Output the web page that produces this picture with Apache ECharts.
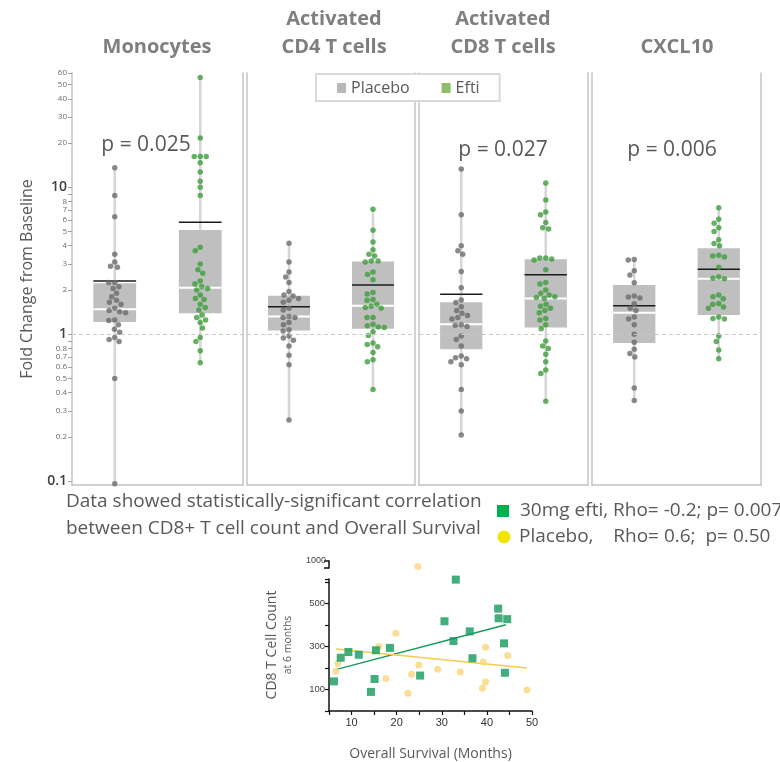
<!DOCTYPE html>
<html>
<head>
<meta charset="utf-8">
<script src="https://cdn.jsdelivr.net/npm/echarts@6/dist/echarts.min.js"></script>
<style>
html, body { margin: 0; padding: 0; background: #fff; }
#chart { width: 780px; height: 762px; }
</style>
</head>
<body>
<div id="chart"></div>
<script>
// panel titles and p-values
const panelNames = ['Monocytes', 'Activated\nCD4 T cells', 'Activated\nCD8 T cells', 'CXCL10']
const pValues = ['p = 0.025', '', 'p = 0.027', 'p = 0.006']
const groups = ['Placebo', 'Efti']

// box stats per panel: [min, q1, median, q3, max, mean]
const placeboBox = [
  [0.096, 1.21, 1.48, 2.22, 13.6, 2.30],
  [0.26, 1.06, 1.32, 1.83, 4.16, 1.54],
  [0.206, 0.79, 1.17, 1.65, 13.3, 1.87],
  [0.353, 0.87, 1.40, 2.16, 3.22, 1.56]
]
const eftiBox = [
  [0.64, 1.39, 2.07, 5.12, 56, 5.78],
  [0.42, 1.09, 1.56, 3.12, 7.1, 2.16],
  [0.35, 1.11, 1.75, 3.24, 10.7, 2.54],
  [0.676, 1.35, 2.38, 3.85, 7.27, 2.77]
]

// individual points (fold change)
const placeboPts = [
  [13.6, 8.8, 6.3, 3.5, 3.1, 2.9, 2.85, 2.25, 2.25, 2.1, 2.05, 1.9, 1.8, 1.7, 1.65, 1.6, 1.5, 1.45, 1.42, 1.4, 1.25, 1.24, 1.16, 1.08, 1.03, 0.95, 0.92, 0.89, 0.5, 0.096],
  [4.16, 3.1, 2.65, 2.45, 2.25, 1.95, 1.85, 1.82, 1.75, 1.7, 1.65, 1.5, 1.46, 1.32, 1.3, 1.3, 1.2, 1.16, 1.07, 1.05, 0.97, 0.94, 0.91, 0.83, 0.72, 0.62, 0.26],
  [13.3, 6.5, 4.0, 3.7, 3.5, 2.67, 2.07, 1.71, 1.64, 1.54, 1.45, 1.39, 1.34, 1.3, 1.27, 1.16, 1.15, 1.13, 0.97, 0.92, 0.83, 0.71, 0.69, 0.68, 0.65, 0.62, 0.42, 0.3, 0.206],
  [3.22, 3.2, 2.7, 2.53, 2.24, 1.82, 1.79, 1.76, 1.61, 1.5, 1.45, 1.31, 1.27, 1.16, 1.0, 0.88, 0.79, 0.74, 0.7, 0.43, 0.353]
]
const eftiPts = [
  [56, 21.7, 16.2, 16.2, 16.2, 14.7, 12.7, 11.0, 10.0, 8.8, 3.9, 3.7, 3.0, 2.75, 2.6, 2.3, 2.2, 2.1, 2.05, 2.0, 1.85, 1.75, 1.72, 1.6, 1.52, 1.46, 1.35, 1.3, 1.25, 1.2, 1.1, 0.95, 0.89, 0.77, 0.64],
  [7.1, 5.1, 4.25, 3.75, 3.5, 3.4, 3.15, 3.15, 3.1, 2.65, 2.55, 2.35, 1.92, 1.88, 1.72, 1.7, 1.6, 1.55, 1.52, 1.5, 1.3, 1.3, 1.17, 1.14, 1.12, 1.11, 1.04, 0.98, 0.87, 0.85, 0.82, 0.75, 0.67, 0.65, 0.42],
  [10.7, 8.2, 6.8, 6.5, 5.75, 5.3, 5.2, 3.3, 3.3, 3.25, 3.2, 2.75, 2.25, 2.2, 2.0, 1.9, 1.85, 1.8, 1.78, 1.75, 1.6, 1.55, 1.5, 1.45, 1.4, 1.28, 1.25, 1.16, 1.09, 0.9, 0.83, 0.8, 0.73, 0.65, 0.57, 0.54, 0.35],
  [7.27, 6.05, 5.7, 5.3, 5.0, 4.4, 4.15, 4.0, 3.45, 3.4, 3.35, 2.85, 2.45, 2.4, 2.38, 1.85, 1.8, 1.74, 1.62, 1.6, 1.53, 1.5, 1.31, 1.28, 1.27, 0.97, 0.89, 0.78, 0.68]
]

// log axis ticks
const yTicks = [0.1, 0.2, 0.3, 0.4, 0.5, 0.6, 0.7, 0.8, 0.9, 1, 2, 3, 4, 5, 6, 7, 8, 9, 10, 20, 30, 40, 50, 60]
const yLabels = [0.1, 0.2, 0.3, 0.4, 0.5, 0.6, 0.7, 0.8, 1, 2, 3, 4, 5, 6, 7, 8, 10, 20, 30, 40, 50, 60]
const bigLabels = [0.1, 1, 10]

// survival scatter: [months, CD8 count]
const osEfti = [[6.1, 138], [7.6, 248], [9.3, 275], [11.6, 262], [14.3, 89], [15.1, 149], [15.4, 283], [18.5, 294], [25.2, 165], [30.6, 418], [32.6, 326], [33.1, 612], [36.2, 371], [36.8, 246], [42.5, 477], [42.6, 432], [44.5, 428], [43.8, 315], [44.0, 178]]
const osPlacebo = [[6.5, 185], [7.0, 223], [16.1, 300], [17.6, 151], [19.8, 362], [22.5, 83], [23.3, 171], [24.9, 214], [29.1, 195], [34.1, 182], [39.0, 106], [39.2, 228], [39.7, 297], [39.7, 135], [44.6, 258], [48.9, 98]]
const osPlaceboHigh = [[24.7, 973]]
const fitEfti = [[6.7, 194], [44.2, 402]]
const fitPlacebo = [[6.5, 289], [48.9, 200]]

const chart = echarts.init(document.getElementById('chart'))
const FONT = 'Open Sans'

// panel layout
const panelLeft = [72, 247, 419, 592]
const panelWidth = [171, 168, 169, 169]

function renderBox(params, api) {
  const half = params.coordSys.width / 2 * 0.25
  const cat = api.value(0)
  const cx = api.coord([cat, 1])[0]
  const y = i => api.coord([cat, api.value(i)])[1]
  const yMin = y(1), yQ1 = y(2), yMed = y(3), yQ3 = y(4), yMax = y(5), yMean = y(6)
  return {
    type: 'group',
    children: [
      { type: 'line', shape: { x1: cx, y1: yMax, x2: cx, y2: yMin }, style: { stroke: '#d6d6d6', lineWidth: 2.5 } },
      { type: 'rect', shape: { x: cx - half, y: yQ3, width: half * 2, height: yQ1 - yQ3 }, style: { fill: '#bfbfbf' } },
      { type: 'line', shape: { x1: cx - half, y1: yMed, x2: cx + half, y2: yMed }, style: { stroke: '#ffffff', lineWidth: 2 } },
      { type: 'line', shape: { x1: cx - half, y1: yMean, x2: cx + half, y2: yMean }, style: { stroke: '#1a1a1a', lineWidth: 1.5 } }
    ]
  }
}

const grid = []
const xAxis = []
const yAxis = []
const series = []

for (let i = 0; i < 4; i++) {
  grid.push({ left: panelLeft[i], width: panelWidth[i], top: 73, height: 412 })
  xAxis.push({
    gridIndex: i, type: 'category', data: groups,
    jitter: 28, jitterOverlap: false, jitterMargin: 0.5,
    axisLine: { lineStyle: { color: '#c4c4c4', width: 1.5 } },
    axisTick: { show: false }, axisLabel: { show: false }
  })
  yAxis.push({
    gridIndex: i, type: 'log', min: 0.094, max: 60,
    name: i === 0 ? 'Fold Change from Baseline' : '',
    nameLocation: 'middle', nameGap: 37,
    nameTextStyle: { fontSize: 16, color: '#595959', fontFamily: FONT },
    axisLine: { show: true, lineStyle: { color: '#c4c4c4', width: 1.5 } },
    axisTick: { show: i === 0, customValues: yTicks, length: 4, lineStyle: { color: '#a0a0a0' } },
    axisLabel: {
      show: i === 0, customValues: yLabels, margin: 5,
      formatter: v => {
        const t = +v.toPrecision(3)
        return bigLabels.includes(t) ? '{b|' + t + '}' : '{s|' + t + '}'
      },
      rich: {
        b: { fontSize: 14, color: '#404040', fontFamily: FONT, fontWeight: 600 },
        s: { fontSize: 8, color: '#6a6a6a', fontFamily: FONT }
      }
    },
    splitLine: { show: false }
  })
  yAxis.push({
    gridIndex: i, type: 'value', position: 'right', min: 0, max: 1,
    axisLine: { show: true, lineStyle: { color: '#c4c4c4', width: 1.5 } },
    axisTick: { show: false }, axisLabel: { show: false }, splitLine: { show: false }
  })
  series.push({
    type: 'custom', xAxisIndex: i, yAxisIndex: 2 * i, z: 2,
    renderItem: renderBox,
    encode: { x: 0, y: [1, 2, 3, 4, 5, 6] },
    data: [[0].concat(placeboBox[i]), [1].concat(eftiBox[i])],
    markLine: {
      silent: true, symbol: 'none', label: { show: false },
      lineStyle: { type: [4, 3], color: '#c8c8c8', width: 1 },
      data: [{ yAxis: 1 }]
    }
  })
  series.push({
    name: 'Placebo', type: 'scatter', xAxisIndex: i, yAxisIndex: 2 * i, z: 3,
    symbolSize: 5.5, itemStyle: { color: '#6c6c6c' },
    data: placeboPts[i].map(v => [0, v])
  })
  series.push({
    name: 'Efti', type: 'scatter', xAxisIndex: i, yAxisIndex: 2 * i, z: 3,
    symbolSize: 5.5, itemStyle: { color: '#3f9e3c' },
    data: eftiPts[i].map(v => [1, v])
  })
}

// survival scatter, upper (broken) part and main part
grid.push({ left: 329, width: 203, top: 561, height: 7 })
grid.push({ left: 329, width: 203, top: 579, height: 134 })
xAxis.push({ gridIndex: 4, type: 'value', min: 5, max: 50, show: false })
xAxis.push({
  gridIndex: 5, type: 'value', min: 5, max: 50, interval: 5,
  name: 'Overall Survival (Months)', nameLocation: 'middle', nameGap: 36,
  nameTextStyle: { fontSize: 14, color: '#595959', fontFamily: FONT },
  axisLine: { lineStyle: { color: '#111', width: 1.5 } },
  axisTick: { length: 4, lineStyle: { color: '#111', width: 1.2 } },
  axisLabel: { fontSize: 11, color: '#333', fontFamily: 'Liberation Sans', margin: 6, formatter: v => v % 10 === 0 ? v : '' },
  splitLine: { show: false }
})
yAxis.push({
  gridIndex: 4, type: 'value', min: 965, max: 1000, interval: 35,
  axisLine: { lineStyle: { color: '#111', width: 1.5 } },
  axisTick: { length: 5, lineStyle: { color: '#111', width: 1.5 } },
  axisLabel: { fontSize: 9, color: '#444', fontFamily: 'Liberation Sans', margin: 3, formatter: v => v === 1000 ? '1000' : '' },
  splitLine: { show: false }
})
yAxis.push({
  gridIndex: 5, type: 'value', min: 0, max: 615, interval: 100,
  name: '{a|CD8 T Cell Count}\n{b|at 6 months}', nameLocation: 'middle', nameGap: 34,
  nameTextStyle: {
    rich: {
      a: { fontSize: 14, color: '#595959', fontFamily: FONT, lineHeight: 18 },
      b: { fontSize: 10.5, color: '#595959', fontFamily: FONT, lineHeight: 14 }
    }
  },
  axisLine: { lineStyle: { color: '#111', width: 1.5 } },
  axisTick: { length: 4, lineStyle: { color: '#111', width: 1.2 } },
  axisLabel: { fontSize: 9.5, color: '#444', fontFamily: 'Liberation Sans', margin: 4, formatter: v => [100, 300, 500].includes(v) ? v : '' },
  splitLine: { show: false }
})
series.push({
  name: 'placeboOS', type: 'scatter', xAxisIndex: 4, yAxisIndex: 8, z: 3,
  symbol: 'circle', symbolSize: 7, itemStyle: { color: '#f9d67c' }, data: osPlaceboHigh
})
series.push({
  name: 'placeboOS', type: 'scatter', xAxisIndex: 5, yAxisIndex: 9, z: 3,
  symbol: 'circle', symbolSize: 7, itemStyle: { color: '#f9d67c' }, data: osPlacebo
})
series.push({
  name: 'eftiOS', type: 'scatter', xAxisIndex: 5, yAxisIndex: 9, z: 3,
  symbol: 'rect', symbolSize: 8, itemStyle: { color: '#119a5b' }, data: osEfti
})
series.push({
  name: 'eftiFit', type: 'line', xAxisIndex: 5, yAxisIndex: 9, z: 2,
  symbol: 'none', lineStyle: { color: '#18995a', width: 1.5 }, data: fitEfti
})
series.push({
  name: 'placeboFit', type: 'line', xAxisIndex: 5, yAxisIndex: 9, z: 2,
  symbol: 'none', lineStyle: { color: '#f5cb50', width: 1.5 }, data: fitPlacebo
})

const titleX = [157, 334, 503, 677]
const pX = [146, 0, 503, 672]
const pY = [145, 0, 150, 150]
const graphic = []
panelNames.forEach((t, i) => {
  graphic.push({
    type: 'text', x: titleX[i], y: 61, z: 10,
    style: { text: t, fontSize: 20, fontWeight: 'bold', fontFamily: FONT, fill: '#7f7f7f', align: 'center', verticalAlign: 'bottom', lineHeight: 28 }
  })
  if (pValues[i]) {
    graphic.push({
      type: 'text', x: pX[i], y: pY[i], z: 10,
      style: { text: pValues[i], fontSize: 21, fontFamily: FONT, fill: '#595959', align: 'center', verticalAlign: 'middle' }
    })
  }
})
const noteSize = 19
graphic.push(
  { type: 'text', x: 66, y: 502, style: { text: 'Data showed statistically-significant correlation', fontSize: noteSize, fontFamily: FONT, fill: '#595959', verticalAlign: 'middle' } },
  { type: 'text', x: 66, y: 529, style: { text: 'between CD8+ T cell count and Overall Survival', fontSize: noteSize, fontFamily: FONT, fill: '#595959', verticalAlign: 'middle' } },
  { type: 'rect', shape: { x: 497, y: 505, width: 12, height: 12 }, style: { fill: '#00b050' } },
  { type: 'text', x: 520, y: 511, style: { text: '30mg efti, Rho= -0.2; p= 0.007', fontSize: noteSize, fontFamily: FONT, fill: '#595959', verticalAlign: 'middle' } },
  { type: 'circle', shape: { cx: 504, cy: 537, r: 6.5 }, style: { fill: '#f2e600' } },
  { type: 'text', x: 519, y: 537, style: { text: 'Placebo,    Rho= 0.6;  p= 0.50', fontSize: noteSize, fontFamily: FONT, fill: '#595959', verticalAlign: 'middle' } }
)

chart.setOption({
  animation: false,
  backgroundColor: '#fff',
  legend: {
    left: 316, top: 74, orient: 'horizontal',
    padding: [6, 20, 5, 21], itemGap: 32, itemWidth: 9, itemHeight: 10,
    borderColor: '#d9d9d9', borderWidth: 2, backgroundColor: '#fff',
    textStyle: { fontSize: 16, color: '#595959', fontFamily: FONT },
    data: [
      { name: 'Placebo', icon: 'rect', itemStyle: { color: '#a8a5a5' } },
      { name: 'Efti', icon: 'rect', itemStyle: { color: '#70ad47' } }
    ]
  },
  grid: grid,
  xAxis: xAxis,
  yAxis: yAxis,
  series: series,
  graphic: graphic
})
</script>
</body>
</html>
